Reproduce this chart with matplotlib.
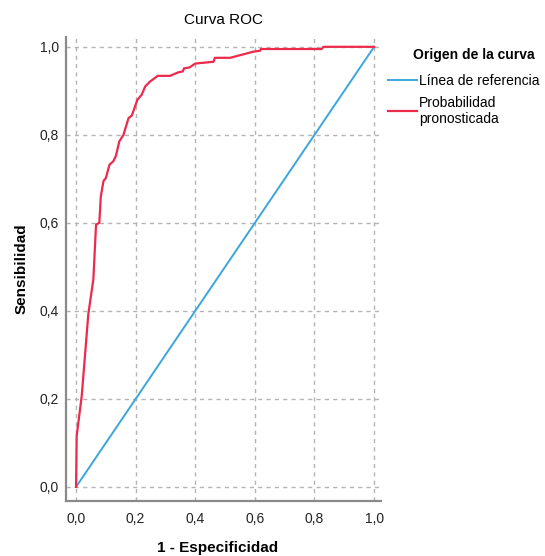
import matplotlib.pyplot as plt
from matplotlib.ticker import FuncFormatter

plt.rcParams['font.family'] = ['Liberation Sans', 'DejaVu Sans']

# ROC curve points (1 - especificidad, sensibilidad)
roc_fpr = [0.0, 0.002, 0.019, 0.041, 0.058, 0.067, 0.078, 0.083, 0.092, 0.100,
           0.112, 0.125, 0.134, 0.145, 0.159, 0.176, 0.187, 0.195, 0.206, 0.220,
           0.232, 0.248, 0.274, 0.315, 0.343, 0.358, 0.362, 0.380, 0.400, 0.461,
           0.466, 0.517, 0.595, 0.617, 0.620, 0.824, 0.830, 1.0]
roc_tpr = [0.0, 0.116, 0.207, 0.392, 0.472, 0.596, 0.600, 0.660, 0.695, 0.702,
           0.732, 0.740, 0.753, 0.785, 0.800, 0.838, 0.844, 0.859, 0.880, 0.891,
           0.910, 0.921, 0.934, 0.934, 0.942, 0.944, 0.951, 0.953, 0.962, 0.966,
           0.975, 0.975, 0.989, 0.991, 0.995, 0.995, 1.0, 1.0]
ref_x = [0.0, 1.0]
ref_y = [0.0, 1.0]
ticks = [0.0, 0.2, 0.4, 0.6, 0.8, 1.0]

fig = plt.figure(figsize=(5.45, 5.56), dpi=100)
ax = fig.add_axes([0.121, 0.099, 0.578, 0.835])

ax.plot(ref_x, ref_y, color='#3aa6dc', lw=1.4, label='Línea de referencia')
ax.plot(roc_fpr, roc_tpr, color='#ec2a4c', lw=1.6, label='Probabilidad\npronosticada')

ax.set_xlim(-0.034, 1.023)
ax.set_ylim(-0.032, 1.023)
ax.set_xticks(ticks)
ax.set_yticks(ticks)
fmt = FuncFormatter(lambda v, p: f'{v:.1f}'.replace('.', ','))
ax.xaxis.set_major_formatter(fmt)
ax.yaxis.set_major_formatter(fmt)
ax.tick_params(length=0, labelsize=10, colors='#222222')
ax.tick_params(axis='x', pad=8)
ax.tick_params(axis='y', pad=5)

ax.grid(True, color='#b4b4b4', lw=1, linestyle=(0, (3, 3)))
ax.set_axisbelow(True)
for s in ['top', 'right']:
    ax.spines[s].set_visible(False)
for s in ['left', 'bottom']:
    ax.spines[s].set_color('#8a8a8a')
    ax.spines[s].set_linewidth(1.6)

ax.set_title('Curva ROC', fontsize=11, pad=9)
ax.set_xlabel('1 - Especificidad', fontsize=11, fontweight='bold')
ax.set_ylabel('Sensibilidad', fontsize=11, fontweight='bold')
ax.xaxis.set_label_coords(0.48, -0.101)
ax.yaxis.set_label_coords(-0.14, 0.5)
ax.xaxis.label.set_va('center')
ax.yaxis.label.set_va('center')

fig.text(474 / 545, 1 - 55 / 556, 'Origen de la curva', fontsize=10,
         fontweight='bold', ha='center', va='center')
fig.legend(loc='upper left', bbox_to_anchor=(388 / 545, 1 - 74 / 556), frameon=False,
           fontsize=10, handlelength=2.1, handletextpad=0.15, labelspacing=0.55,
           borderpad=0, borderaxespad=0)

fig.savefig('out.png', dpi=100)
